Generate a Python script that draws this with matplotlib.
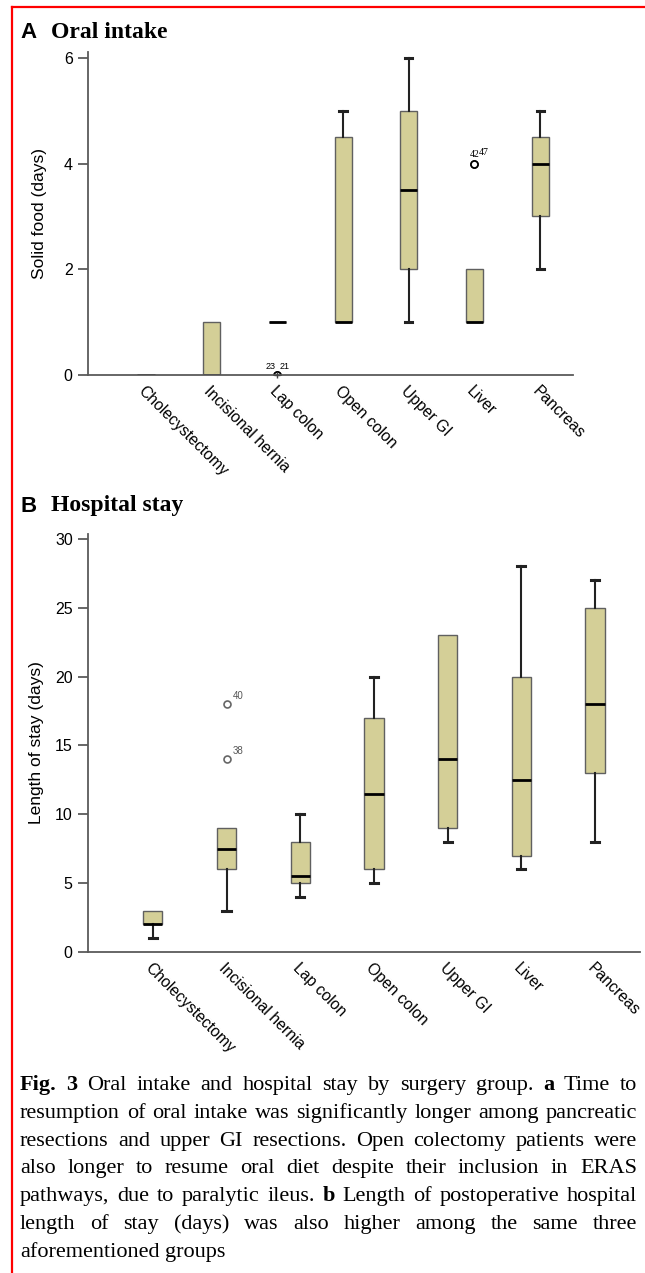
import matplotlib.pyplot as plt
from matplotlib.lines import Line2D

W, H = 645, 1273

categories = ['Cholecystectomy', 'Incisional hernia', 'Lap colon', 'Open colon',
              'Upper GI', 'Liver', 'Pancreas']

# A: time to solid food (days)
food_whislo = [0, 0, 1, 1, 1, 1, 2]
food_q1 = [0, 0, 1, 1, 2, 1, 3]
food_med = [0, 0, 1, 1, 3.5, 1, 4]
food_q3 = [0, 1, 1, 4.5, 5, 2, 4.5]
food_whishi = [0, 1, 1, 5, 6, 2, 5]
food_fliers = [[], [], [0, 0], [], [], [4, 4], []]
food_flier_ids = [[], [], ['23', '21'], [], [], ['42', '47'], []]

# B: length of stay (days)
stay_whislo = [1, 3, 4, 5, 8, 6, 8]
stay_q1 = [2, 6, 5, 6, 9, 7, 13]
stay_med = [2, 7.5, 5.5, 11.5, 14, 12.5, 18]
stay_q3 = [3, 9, 8, 17, 23, 20, 25]
stay_whishi = [3, 9, 10, 20, 23, 28, 27]
stay_fliers = [[], [14, 18], [], [], [], [], []]
stay_flier_ids = [[], ['38', '40'], [], [], [], [], []]

BOX = '#d4cf97'
AXC = '#5a5a5a'
SANS = ['Liberation Sans', 'DejaVu Sans']
SERIF = ['Liberation Serif', 'DejaVu Serif']

plt.rcParams['font.family'] = SANS

fig = plt.figure(figsize=(W / 100, H / 100), dpi=100)


def px_axes(left, top, right, bottom):
    return fig.add_axes([left / W, 1 - bottom / H, (right - left) / W, (bottom - top) / H])


def draw_box(ax, whislo, q1, med, q3, whishi, fliers, marker, flier_col):
    stats = []
    for i in range(len(categories)):
        stats.append(dict(whislo=whislo[i], q1=q1[i], med=med[i], q3=q3[i],
                          whishi=whishi[i], fliers=fliers[i], label=categories[i]))
    art = ax.bxp(stats, positions=range(len(categories)), widths=0.26, capwidths=0.11,
                 patch_artist=True, manage_ticks=False,
                 boxprops=dict(facecolor=BOX, edgecolor='#606060', linewidth=1.0),
                 medianprops=dict(color='black', linewidth=2.0),
                 whiskerprops=dict(color='#222222', linewidth=1.5),
                 capprops=dict(color='#222222', linewidth=2.2),
                 flierprops=dict(marker=marker, markersize=5, markerfacecolor='white',
                                 markeredgecolor=flier_col, markeredgewidth=1.2))
    # no whisker/cap where the whisker ends on the box
    for i in range(len(categories)):
        if whislo[i] == q1[i]:
            art['caps'][2 * i].set_visible(False)
            art['whiskers'][2 * i].set_visible(False)
        if whishi[i] == q3[i]:
            art['caps'][2 * i + 1].set_visible(False)
            art['whiskers'][2 * i + 1].set_visible(False)
    return art


def style_axes(ax, ylabel, yticks, labelpad):
    for side in ['top', 'right']:
        ax.spines[side].set_visible(False)
    for side in ['left', 'bottom']:
        ax.spines[side].set_color(AXC)
        ax.spines[side].set_linewidth(1.3)
    ax.set_yticks(yticks)
    ax.tick_params(axis='y', length=7, width=1.3, color=AXC, labelsize=11.5, pad=4)
    ax.set_xticks(range(len(categories)))
    ax.set_xticklabels(categories, rotation=-45, ha='left', va='top',
                       rotation_mode='anchor', fontsize=11.3)
    ax.tick_params(axis='x', length=0, pad=6)
    ax.set_ylabel(ylabel, fontsize=12.5, labelpad=labelpad)
    ax.set_facecolor('none')


# panel A
axA = px_axes(88, 52, 573, 375)
draw_box(axA, food_whislo, food_q1, food_med, food_q3, food_whishi, food_fliers, 'o', 'black')
axA.set_xlim(-0.883, 6.50)
axA.set_ylim(0, 6.11)
style_axes(axA, 'Solid food (days)', [0, 2, 4, 6], 12)
lap = categories.index('Lap colon')
axA.plot([lap], [food_fliers[lap][0]], marker='+', color='#444444', markersize=4,
         linestyle='none', zorder=5, clip_on=False)
axA.annotate(food_flier_ids[lap][0], (lap, food_fliers[lap][0]), xytext=(-1.5, 3),
             textcoords='offset points', ha='right', va='bottom', fontsize=6.5)
axA.annotate(food_flier_ids[lap][1], (lap, food_fliers[lap][1]), xytext=(1.5, 3),
             textcoords='offset points', ha='left', va='bottom', fontsize=6.5)
liv = categories.index('Liver')
axA.annotate(food_flier_ids[liv][0], (liv, food_fliers[liv][0]), xytext=(3.5, 3.5),
             textcoords='offset points', ha='right', va='bottom', fontsize=7,
             family=SERIF)
axA.annotate(food_flier_ids[liv][1], (liv, food_fliers[liv][1]), xytext=(3, 4.5),
             textcoords='offset points', ha='left', va='bottom', fontsize=7,
             family=SERIF)

# panel B
axB = px_axes(88, 534, 640, 952)
draw_box(axB, stay_whislo, stay_q1, stay_med, stay_q3, stay_whishi, stay_fliers, 'o', '#666666')
axB.set_xlim(-0.88, 6.61)
axB.set_ylim(0, 30.36)
style_axes(axB, 'Length of stay (days)', [0, 5, 10, 15, 20, 25, 30], 8)
inc = categories.index('Incisional hernia')
for val, lab in zip(stay_fliers[inc], stay_flier_ids[inc]):
    axB.annotate(lab, (inc, val), xytext=(4.5, 2), textcoords='offset points',
                 ha='left', va='bottom', fontsize=7, color='#555555')

# panel headings
for label, title, ytop in [('A', 'Oral intake', 32), ('B', 'Hospital stay', 506)]:
    fig.text(20 / W, 1 - ytop / H, label, fontsize=16, weight='bold', family=SANS, va='center')
    fig.text(51 / W, 1 - ytop / H, title, fontsize=17, weight='bold', family=SERIF, va='center')

# caption, justified between x0 and x1
caption_lines = [
    '*Fig.* *3*  Oral intake and hospital stay by surgery group. *a* Time to',
    'resumption of oral intake was significantly longer among pancreatic',
    'resections and upper GI resections. Open colectomy patients were',
    'also longer to resume oral diet despite their inclusion in ERAS',
    'pathways, due to paralytic ileus. *b* Length of postoperative hospital',
    'length of stay (days) was also higher among the same three',
    'aforementioned groups',
]
cap_size = 16
x0, x1 = 20, 637
renderer = fig.canvas.get_renderer()
for n, line in enumerate(caption_lines):
    words = []
    for w in line.split():
        bold = w.startswith('*') and w.endswith('*')
        words.append((w.strip('*'), bold))
    texts = []
    for w, bold in words:
        t = fig.text(0, 1 - (1090 + n * 27.8) / H, w, fontsize=cap_size, family=SERIF,
                     weight='bold' if bold else 'normal', va='baseline')
        texts.append(t)
    widths = [t.get_window_extent(renderer).width for t in texts]
    if n < len(caption_lines) - 1:
        gap = (x1 - x0 - sum(widths)) / (len(words) - 1)
    else:
        gap = cap_size * 100 / 72 * 0.25
    x = x0
    for t, wd in zip(texts, widths):
        t.set_x(x / W)
        x += wd + gap

# red frame on left and top edges
fig.add_artist(Line2D([12 / W, 12 / W], [0, 1 - 7 / H], transform=fig.transFigure,
                      color='red', linewidth=1.6))
fig.add_artist(Line2D([12 / W, 1], [1 - 7 / H, 1 - 7 / H], transform=fig.transFigure,
                      color='red', linewidth=1.6))

fig.savefig('out.png', dpi=100)
